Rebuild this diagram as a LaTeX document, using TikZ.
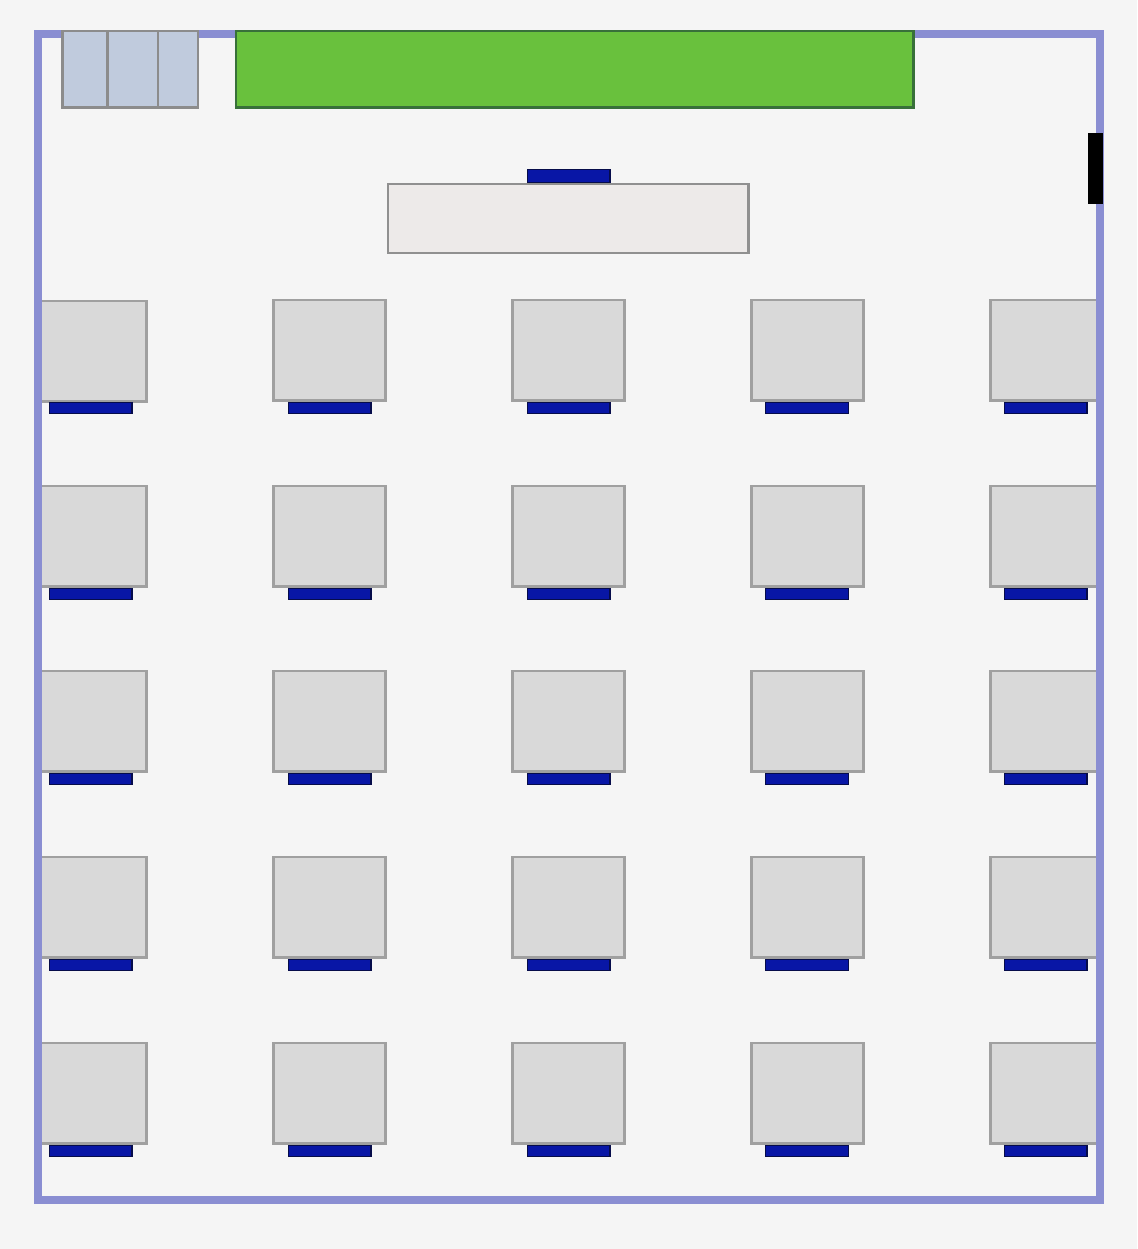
\documentclass[tikz,border=0pt]{standalone}
\definecolor{bgc}{HTML}{F5F5F5}
\definecolor{wallc}{HTML}{8A8ED2}
\definecolor{deskf}{HTML}{D9D9D9}
\definecolor{deskd}{HTML}{A0A0A0}
\definecolor{bluef}{HTML}{0816A6}
\definecolor{blued}{HTML}{060C4A}
\definecolor{greenf}{HTML}{69C13D}
\definecolor{greend}{HTML}{38703A}
\definecolor{binf}{HTML}{C0CBDD}
\definecolor{bind}{HTML}{8C8C8C}
\definecolor{teachf}{HTML}{EDEAE9}
\definecolor{teachd}{HTML}{909090}
\tikzset{
  desk/.style={draw=deskd,fill=deskf,line width=2.8pt},
  chair/.style={draw=blued,fill=bluef,line width=1.4pt},
  wall/.style={draw=wallc,line width=8pt,line cap=rect},
  bins/.style={draw=bind,fill=binf,line width=2.5pt},
  board/.style={draw=greend,fill=greenf,line width=2.5pt},
  teacher/.style={draw=teachd,fill=teachf,line width=2.8pt}
}
\begin{document}
\begin{tikzpicture}[x=1pt,y=-1pt]
\useasboundingbox (0,0) rectangle (1137,1249);
\fill[bgc] (0,0) rectangle (1137,1249);
% desks and chairs
\foreach \dx/\dw/\cx in {37.5/109/49.5,273.7/112/288.3,512.7/112/527.3,751.7/112/765.7,990.7/109/1004.5}{
  \foreach \ry/\cy in {300/402.5,486/588.5,671/773.5,857/959.5,1043/1145.5}{
    \draw[desk] (\dx,\ry) rectangle ++(\dw,100.5);
    \draw[chair] (\cx,\cy) rectangle ++(82.5,11);
  }
}
% first-row, first-column desk sits one pixel lower
\fill[bgc] (30,296) rectangle (150,303);
\draw[desk] (37.5,301) rectangle ++(109,100.5);
\draw[chair] (49.5,402.5) rectangle ++(82.5,11);
% walls
\draw[wall] (37.5,33.7) rectangle (1099.5,1199.5);
% top fittings
\draw[bins] (62.5,31) rectangle (198,107.5);
\draw[bind,line width=2.5pt] (107.5,31) -- (107.5,107.5);
\draw[bind,line width=2.5pt] (158,31) -- (158,107.5);
\draw[board] (236,31) rectangle (913.5,107.5);
\fill[black] (1088,132.8) rectangle (1103,204.3);
% teacher's desk and chair
\draw[chair] (527.3,169.7) rectangle ++(82.5,13.3);
\draw[teacher] (388,184) rectangle (748.5,253);
\end{tikzpicture}
\end{document}
